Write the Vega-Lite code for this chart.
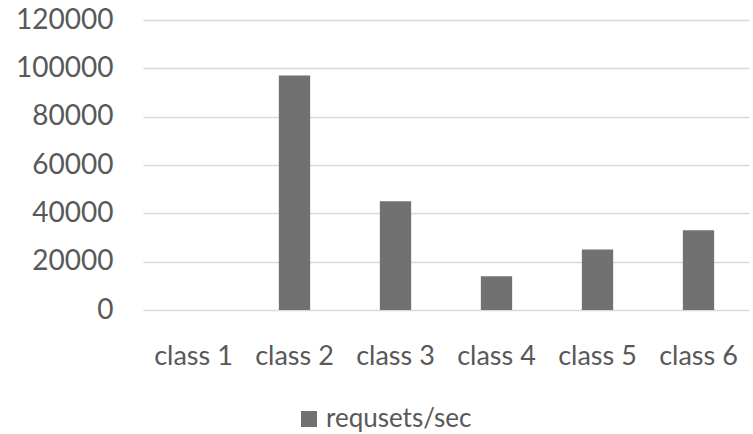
{
  "$schema": "https://vega.github.io/schema/vega-lite/v6.json",
  "autosize": {"type": "none"},
  "width": 606,
  "height": 290,
  "padding": {"left": 143, "top": 20, "right": 4, "bottom": 124},
  "background": "white",
  "data": {
    "values": [
      {"class": "class 1", "series": "requsets/sec", "value": 0},
      {"class": "class 2", "series": "requsets/sec", "value": 97000},
      {"class": "class 3", "series": "requsets/sec", "value": 45000},
      {"class": "class 4", "series": "requsets/sec", "value": 14000},
      {"class": "class 5", "series": "requsets/sec", "value": 25000},
      {"class": "class 6", "series": "requsets/sec", "value": 33000}
    ]
  },
  "mark": {"type": "bar", "color": "#717171"},
  "encoding": {
    "x": {
      "field": "class",
      "type": "nominal",
      "sort": null,
      "scale": {"paddingInner": 0.69, "paddingOuter": 0.345},
      "axis": {
        "title": null,
        "labelAngle": 0,
        "domain": false,
        "ticks": false,
        "labelPadding": 33,
        "labelFont": "Lato",
        "labelFontSize": 27,
        "labelColor": "#595959"
      }
    },
    "y": {
      "field": "value",
      "type": "quantitative",
      "scale": {"domain": [0, 120000], "nice": false},
      "axis": {
        "title": null,
        "values": [0, 20000, 40000, 60000, 80000, 100000, 120000],
        "format": "d",
        "domain": false,
        "ticks": false,
        "labelPadding": 30,
        "labelFont": "Lato",
        "labelFontSize": 28,
        "labelColor": "#595959",
        "gridColor": "#d9d9d9",
        "gridWidth": 1.5
      }
    },
    "fill": {
      "field": "series",
      "type": "nominal",
      "scale": {"range": ["#717171"]},
      "legend": {
        "title": null,
        "orient": "none",
        "legendX": 153,
        "legendY": 386,
        "symbolType": "square",
        "symbolSize": 256,
        "symbolStrokeWidth": 0,
        "labelFont": "Lato",
        "labelFontSize": 26,
        "labelColor": "#595959",
        "labelOffset": 4
      }
    }
  },
  "config": {"view": {"stroke": null}}
}
